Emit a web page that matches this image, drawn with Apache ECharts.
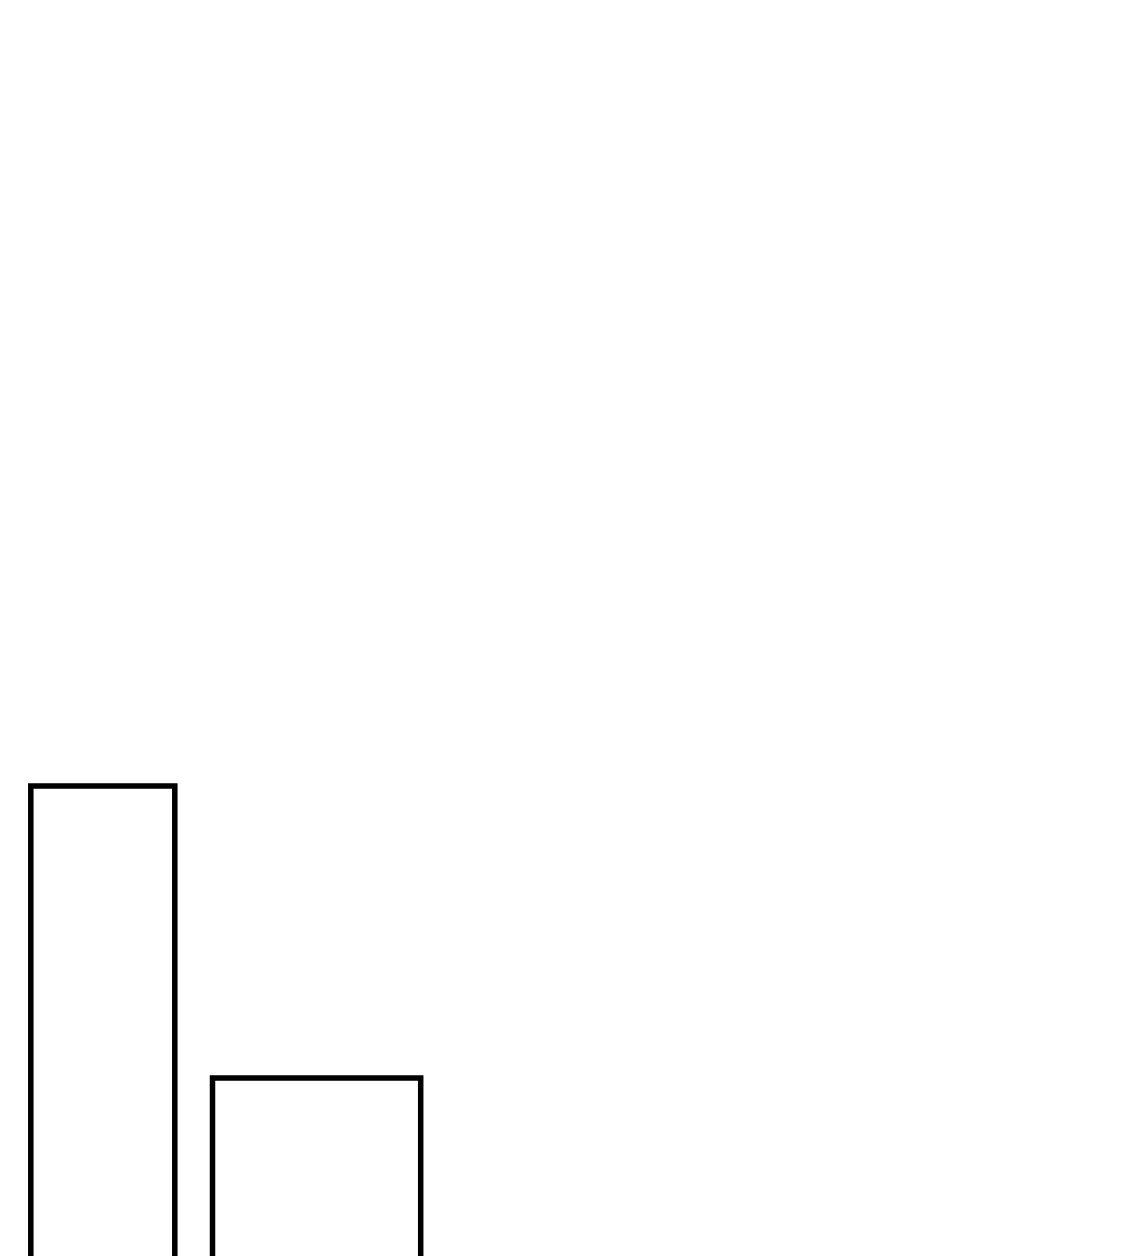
<!DOCTYPE html>
<html>
<head>
<meta charset="utf-8">
<title>Bars</title>
<script src="https://cdn.jsdelivr.net/npm/echarts@6/dist/echarts.min.js"></script>
<style>
  html, body { margin: 0; padding: 0; background: #fff; }
  #chart { width: 1130px; height: 1256px; }
</style>
</head>
<body>
<div id="chart"></div>
<script>
// each bar spans [start, end] on x and rises from 0 to height
const names = ['A', 'B'];
const starts = [3.08, 21.25];
const ends = [17.48, 42.07];
const heights = [51.4, 22.2];

const chart = echarts.init(document.getElementById('chart'));

function renderBar(params, api) {
  const topLeft = api.coord([api.value(0), api.value(2)]);
  const bottomRight = api.coord([api.value(1), 0]);
  return {
    type: 'rect',
    shape: {
      x: topLeft[0],
      y: topLeft[1],
      width: bottomRight[0] - topLeft[0],
      height: bottomRight[1] - topLeft[1]
    },
    style: {
      fill: 'transparent',
      stroke: '#000',
      lineWidth: 5.5
    }
  };
}

chart.setOption({
  animation: false,
  backgroundColor: '#fff',
  grid: {left: 0, top: 0, right: 0, bottom: 0},
  xAxis: {type: 'value', min: 0, max: 113, show: false},
  // y starts above 0 so the bar bases fall below the bottom edge
  yAxis: {type: 'value', min: 4.4, max: 130, show: false},
  series: [
    {
      type: 'custom',
      renderItem: renderBar,
      clip: false,
      data: names.map((name, i) => ({name, value: [starts[i], ends[i], heights[i]]}))
    }
  ]
});
</script>
</body>
</html>
